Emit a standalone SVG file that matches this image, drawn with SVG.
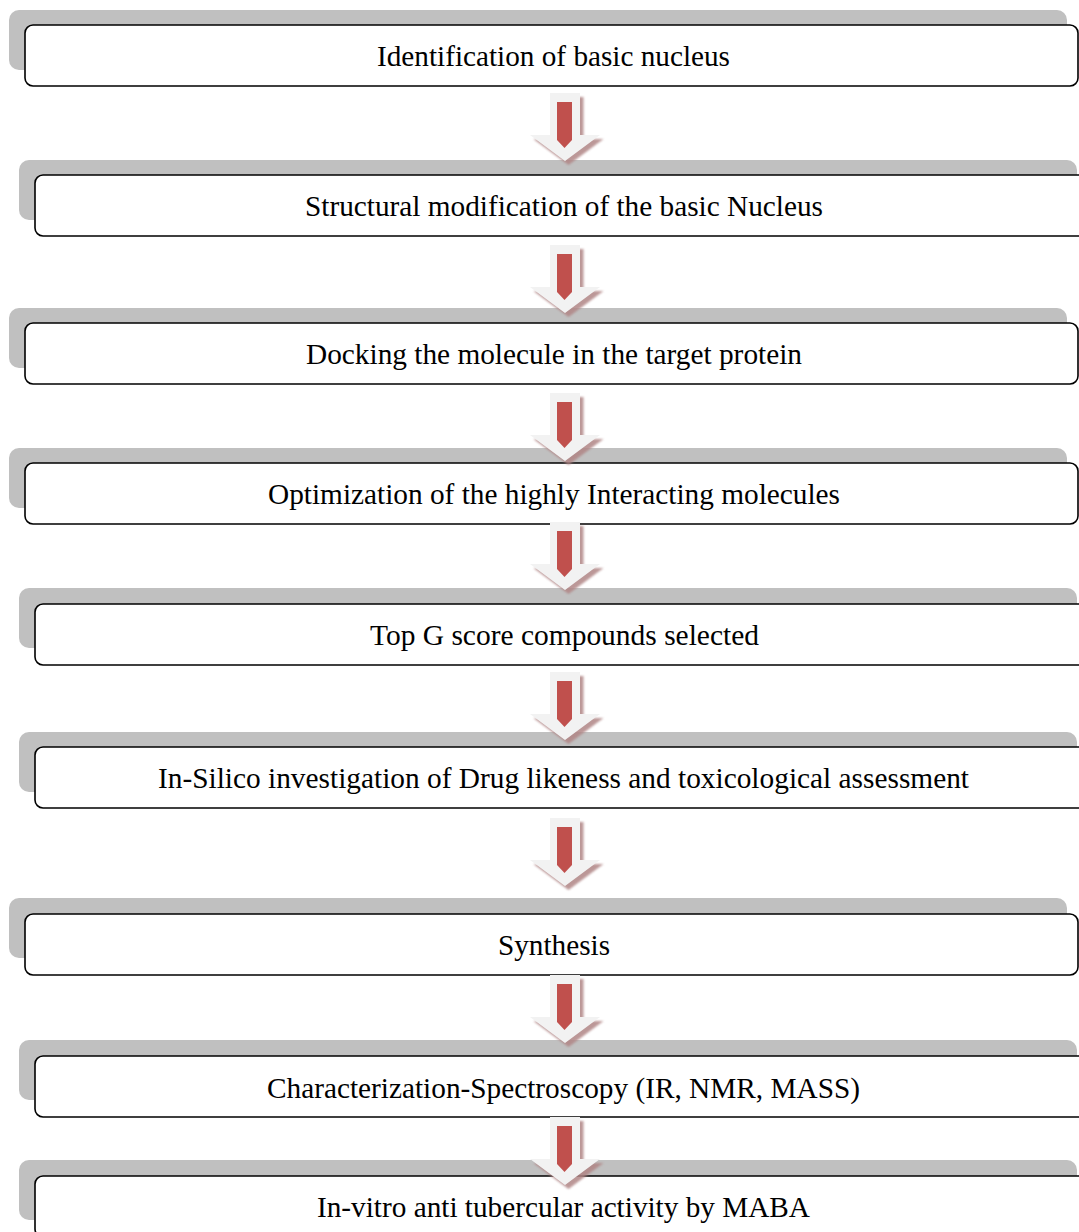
<svg xmlns="http://www.w3.org/2000/svg" xmlns:xlink="http://www.w3.org/1999/xlink" width="1079" height="1232" viewBox="0 0 1079 1232">
<style>
.bg{fill:#c0c0c0}
.box{fill:#fff;stroke:#000;stroke-width:1.6}
.lbl{font-family:"Liberation Serif","Times New Roman",serif;font-size:29px;fill:#000;text-anchor:middle}
</style>
<defs>
<filter id="blur" x="-20%" y="-20%" width="140%" height="140%"><feGaussianBlur stdDeviation="0.8"/></filter>
<g id="arrow">
<path d="M550,0 H580 V42 H600 L565,68 L530,42 H550 Z" fill="#b08585" opacity="0.85" transform="translate(3.5,4)" filter="url(#blur)"/>
<path d="M550,0 H580 V42 H600 L565,68 L530,42 H550 Z" fill="#f2f2f2"/>
<path d="M557,9 H572 V47 L564.5,55 L557,47 Z" fill="#c0504d"/>
</g>
</defs>
<rect width="1079" height="1232" fill="#fff"/>
<g id="n1"><rect class="bg" x="9" y="10" width="1058" height="60" rx="10"/><rect class="box" x="25" y="25" width="1053" height="61" rx="8"/><text class="lbl" x="553.5" y="66" textLength="353" lengthAdjust="spacingAndGlyphs">Identification of basic nucleus</text></g>
<g id="n2"><rect class="bg" x="19" y="160" width="1058" height="60" rx="10"/><rect class="box" x="35" y="175" width="1053" height="61" rx="8"/><text class="lbl" x="564" y="216" textLength="518" lengthAdjust="spacingAndGlyphs">Structural modification of the basic Nucleus</text></g>
<g id="n3"><rect class="bg" x="9" y="308" width="1058" height="60" rx="10"/><rect class="box" x="25" y="323" width="1053" height="61" rx="8"/><text class="lbl" x="554" y="364" textLength="496" lengthAdjust="spacingAndGlyphs">Docking the molecule in the target protein</text></g>
<g id="n4"><rect class="bg" x="9" y="448" width="1058" height="60" rx="10"/><rect class="box" x="25" y="463" width="1053" height="61" rx="8"/><text class="lbl" x="554" y="504" textLength="572" lengthAdjust="spacingAndGlyphs">Optimization of the highly Interacting molecules</text></g>
<g id="n5"><rect class="bg" x="19" y="588" width="1058" height="60" rx="10"/><rect class="box" x="35" y="604" width="1053" height="61" rx="8"/><text class="lbl" x="564.5" y="645" textLength="389" lengthAdjust="spacingAndGlyphs">Top G score compounds selected</text></g>
<g id="n6"><rect class="bg" x="19" y="732" width="1058" height="60" rx="10"/><rect class="box" x="35" y="747" width="1053" height="61" rx="8"/><text class="lbl" x="563.5" y="788" textLength="811" lengthAdjust="spacingAndGlyphs">In-Silico investigation of Drug likeness and toxicological assessment</text></g>
<g id="n7"><rect class="bg" x="9" y="898" width="1058" height="60" rx="10"/><rect class="box" x="25" y="914" width="1053" height="61" rx="8"/><text class="lbl" x="554" y="955" textLength="112" lengthAdjust="spacingAndGlyphs">Synthesis</text></g>
<g id="n8"><rect class="bg" x="19" y="1040" width="1058" height="60" rx="10"/><rect class="box" x="35" y="1056" width="1053" height="61" rx="8"/><text class="lbl" x="563.5" y="1098" textLength="593" lengthAdjust="spacingAndGlyphs">Characterization-Spectroscopy (IR, NMR, MASS)</text></g>
<g id="n9"><rect class="bg" x="19" y="1160" width="1058" height="60" rx="10"/><rect class="box" x="35" y="1176" width="1053" height="61" rx="8"/><text class="lbl" x="563.5" y="1217" textLength="493" lengthAdjust="spacingAndGlyphs">In-vitro anti tubercular activity by MABA</text></g>
<g id="connectors">
<use xlink:href="#arrow" transform="translate(0,93)"/>
<use xlink:href="#arrow" transform="translate(0,245)"/>
<use xlink:href="#arrow" transform="translate(0,393)"/>
<use xlink:href="#arrow" transform="translate(0,522)"/>
<use xlink:href="#arrow" transform="translate(0,672)"/>
<use xlink:href="#arrow" transform="translate(0,818)"/>
<use xlink:href="#arrow" transform="translate(0,975)"/>
<use xlink:href="#arrow" transform="translate(0,1117)"/>
</g>
</svg>
